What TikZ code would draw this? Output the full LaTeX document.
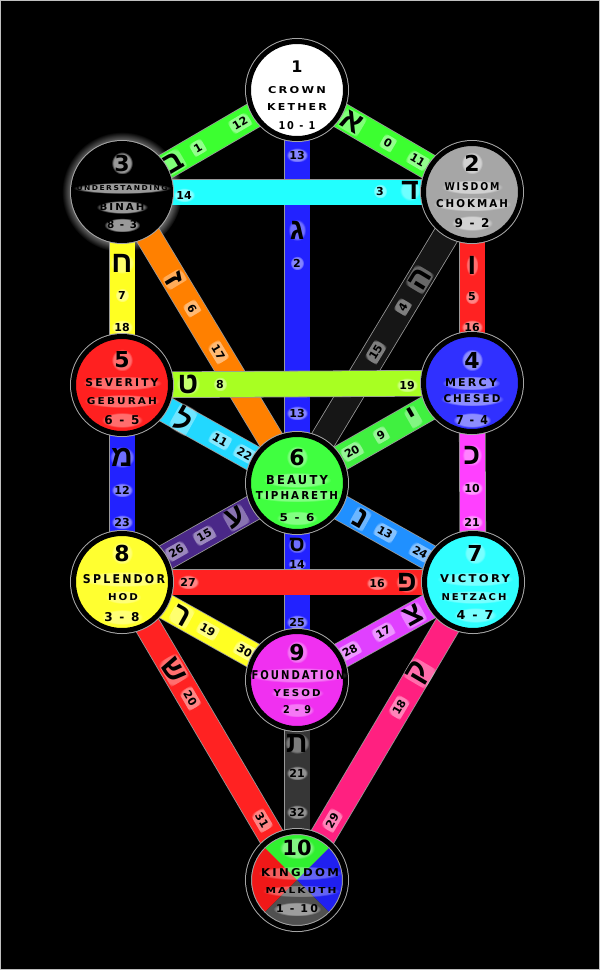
\documentclass[tikz,border=0pt]{standalone}
\usepackage{fontspec}
\usepackage{graphicx}
\usetikzlibrary{fadings}
\newfontfamily\capfont[LetterSpace=20]{DejaVu Sans}
\newfontfamily\numfont{DejaVu Sans}
\newfontfamily\hebfont[Script=Hebrew]{Liberation Sans}
\newcommand\ctxt[3]{\resizebox{#1pt}{#2pt}{\capfont\bfseries #3}}
\definecolor{cgreen}{HTML}{3CFF30}
\definecolor{cblue}{HTML}{2222FF}
\definecolor{ccyan}{HTML}{22FFFF}
\definecolor{cdark}{HTML}{161616}
\definecolor{cred}{HTML}{FF2222}
\definecolor{corange}{HTML}{FF8000}
\definecolor{cyellow}{HTML}{FFFF22}
\definecolor{cchart}{HTML}{A8FF22}
\definecolor{cgreentwo}{HTML}{40F040}
\definecolor{cmag}{HTML}{FF40FF}
\definecolor{csky}{HTML}{22D8FF}
\definecolor{cazure}{HTML}{2090FF}
\definecolor{cindigo}{HTML}{4A2888}
\definecolor{cviolet}{HTML}{E040FF}
\definecolor{cpink}{HTML}{FF2080}
\definecolor{cgray}{HTML}{363636}
\definecolor{sgray}{HTML}{A6A6A6}
\definecolor{sred}{HTML}{FF2020}
\definecolor{sblue}{HTML}{3030FF}
\definecolor{sgreen}{HTML}{40FF40}
\definecolor{syellow}{HTML}{FFFF30}
\definecolor{scyan}{HTML}{30FFFF}
\definecolor{smag}{HTML}{F030F0}
\definecolor{mgreen}{HTML}{30F030}
\definecolor{mred}{HTML}{F01818}
\definecolor{mblue}{HTML}{2020F0}
\definecolor{mgray}{HTML}{505050}
\tikzset{
  bar/.style={draw=gray!80, line width=0.8pt, double=#1, double distance=25pt},
  glow/.style={preaction={fill=white, fill opacity=#1, path fading=circle with fuzzy edge 20 percent}},
  num/.style={font=\numfont\bfseries\fontsize{11}{11}\selectfont, text=black, inner sep=3pt, glow=0.45},
  heb/.style={font=\hebfont\bfseries\fontsize{30}{30}\selectfont, text=black, inner sep=1.5pt, glow=0.35},
  seph/.style={circle, draw=black, line width=5pt, minimum size=97pt, inner sep=0pt, preaction={draw=gray!70, line width=7pt}},
  snum/.style={font=\numfont\bfseries\fontsize{22}{22}\selectfont, text=black, inner sep=3pt, glow=#1},
  snum/.default=0.35,
  sname/.style={text=black, inner sep=3pt, glow=#1},
  sname/.default=0.35,
}
\begin{document}
\begin{tikzpicture}[x=1pt,y=-1pt]
\fill[black] (0,0) rectangle (600,970);
\useasboundingbox (0,0) rectangle (600,970);
\draw[gray!50, line width=1pt] (0.5,0.5) rectangle (599.5,969.5);
% centres
\coordinate (c1) at (297,90);
\coordinate (c2) at (472,192);
\coordinate (c3) at (122,192);
\coordinate (c4) at (472,383);
\coordinate (c5) at (122,385);
\coordinate (c6) at (297,483);
\coordinate (c7) at (473,582);
\coordinate (c8) at (122,582);
\coordinate (c9) at (297,680);
\coordinate (c10) at (297,880);
% Binah halo
\fill[white, fill opacity=0.55, path fading=circle with fuzzy edge 20 percent] (c3) circle (60pt);
% paths (non-horizontal)
\draw[bar=cdark] (c2) -- (c6);
\draw[bar=corange] (c3) -- (c6);
\draw[bar=cblue] (c1) -- (c6);
\draw[bar=cred] (c2) -- (c4);
\draw[bar=cyellow] (c3) -- (c5);
\draw[bar=cgreentwo] (c4) -- (c6);
\draw[bar=csky] (c5) -- (c6);
\draw[bar=cmag] (c4) -- (c7);
\draw[bar=cblue] (c5) -- (c8);
\draw[bar=cazure] (c6) -- (c7);
\draw[bar=cindigo] (c6) -- (c8);
\draw[bar=cblue] (c6) -- (c9);
\draw[bar=cviolet] (c7) -- (c9);
\draw[bar=cyellow] (c8) -- (c9);
\draw[bar=cpink] (c7) -- (c10);
\draw[bar=cred] (c8) -- (c10);
\draw[bar=cgray] (c9) -- (c10);
\draw[bar=cgreen] (c1) -- (c2);
\draw[bar=cgreen] (c1) -- (c3);
% horizontal paths
\draw[bar=ccyan] (c3) -- (c2);
\draw[bar=cchart] (c5) -- (c4);
\draw[bar=cred] (c8) -- (c7);
% labels on diagonal paths
\path (c1) -- (c2) node[heb, pos=0.314, sloped] (a11) {א} node[num, pos=0.52, sloped] (b11) {0} node[num, pos=0.69, sloped] (d11) {11};
\path (c1) -- (c3) node[num, pos=0.326, sloped] (d12) {12} node[num, pos=0.566, sloped] (b12) {1} node[heb, pos=0.71, sloped] (a12) {ב};
\path (c2) -- (c6) node[heb, pos=0.30, sloped] (a15) {ה} node[num, pos=0.395, sloped] (b15) {4} node[num, pos=0.55, sloped] (d15) {15};
\path (c3) -- (c6) node[heb, pos=0.30, sloped] (a17) {ז} node[num, pos=0.40, sloped] (b17) {6} node[num, pos=0.55, sloped] (d17) {17};
\path (c4) -- (c6) node[heb, pos=0.337, sloped] (a20) {י} node[num, pos=0.52, sloped] (b20) {9} node[num, pos=0.686, sloped] (d20) {20};
\path (c5) -- (c6) node[heb, pos=0.35, sloped] (a22) {ל} node[num, pos=0.56, sloped] (b22) {11} node[num, pos=0.70, sloped] (d22) {22};
\path (c6) -- (c7) node[heb, pos=0.36, sloped] (a24) {נ} node[num, pos=0.50, sloped] (b24) {13} node[num, pos=0.70, sloped] (d24) {24};
\path (c6) -- (c8) node[heb, pos=0.35, sloped] (a26) {ע} node[num, pos=0.53, sloped] (b26) {15} node[num, pos=0.69, sloped] (d26) {26};
\path (c7) -- (c9) node[heb, pos=0.34, sloped] (a28) {צ} node[num, pos=0.51, sloped] (b28) {17} node[num, pos=0.70, sloped] (d28) {28};
\path (c7) -- (c10) node[heb, pos=0.305, sloped] (a29) {ק} node[num, pos=0.42, sloped] (b29) {18} node[num, pos=0.80, sloped] (d29) {29};
\path (c8) -- (c9) node[heb, pos=0.34, sloped] (a30) {ר} node[num, pos=0.49, sloped] (b30) {19} node[num, pos=0.70, sloped] (d30) {30};
\path (c8) -- (c10) node[heb, pos=0.295, sloped] (a31) {ש} node[num, pos=0.39, sloped] (b31) {20} node[num, pos=0.80, sloped] (d31) {31};
% labels on vertical paths
\node[num] (d13) at (297,155) {13};
\node[heb] (a13) at (297,230) {ג};
\node[num] (b13) at (297,263) {2};
\node[num] (e13) at (297,413) {13};
\node[heb] (a16) at (472,265) {ו};
\node[num] (b16) at (472,297) {5};
\node[num] (d16) at (472,327) {16};
\node[heb] (a18) at (122,263) {ח};
\node[num] (b18) at (122,295) {7};
\node[num] (d18) at (122,327) {18};
\node[heb] (a21) at (472,455) {כ};
\node[num] (b21) at (472,488) {10};
\node[num] (d21) at (472,522) {21};
\node[heb] (a23) at (122,457) {מ};
\node[num] (b23) at (122,490) {12};
\node[num] (d23) at (122,522) {23};
\node[heb, font=\hebfont\bfseries\fontsize{22}{22}\selectfont] (a25) at (297,545) {ס};
\node[num, inner sep=1.5pt] (b25) at (297,564) {14};
\node[num] (d25) at (297,622) {25};
\node[heb] (a32) at (297,743) {ת};
\node[num] (b32) at (297,773) {21};
\node[num] (d32) at (297,812) {32};
% labels on horizontal paths
\node[num] (d14) at (184,195) {14};
\node[num] (b14) at (380,191) {3};
\node[heb] (a14) at (410,190) {ד};
\node[heb] (a19) at (188,384) {ט};
\node[num] (b19) at (220,384) {8};
\node[num] (d19) at (407,385) {19};
\node[num] (d27) at (188,582) {27};
\node[num] (b27) at (377,583) {16};
\node[heb] (a27) at (407,582) {פ};
% sephiroth
\begin{scope}
\clip (c10) circle (49pt);
\fill[mgreen] (c10) -- (227,810) -- (367,810) -- cycle;
\fill[mred] (c10) -- (227,810) -- (227,950) -- cycle;
\fill[mblue] (c10) -- (367,810) -- (367,950) -- cycle;
\fill[mgray] (c10) -- (227,950) -- (367,950) -- cycle;
\end{scope}
\node[seph, fill=white] (s1) at (c1) {};
\node[seph, fill=sgray] (s2) at (c2) {};
\node[seph, fill=black] (s3) at (c3) {};
\node[seph, fill=sblue] (s4) at (c4) {};
\node[seph, fill=sred] (s5) at (c5) {};
\node[seph, fill=sgreen] (s6) at (c6) {};
\node[seph, fill=scyan] (s7) at (c7) {};
\node[seph, fill=syellow] (s8) at (c8) {};
\node[seph, fill=smag] (s9) at (c9) {};
\node[seph] (s10) at (c10) {};
% texts
\node[snum=0, font=\numfont\bfseries\fontsize{16}{16}\selectfont] (n1) at (297,67) {1};
\node[sname=0] (e1) at (297,90) {\ctxt{58}{7}{CROWN}};
\node[sname=0] (h1) at (297,107) {\ctxt{60}{7}{KETHER}};
\node[sname=0] (v1) at (297,126) {\ctxt{37}{8}{10 - 1}};
\node[snum=0.6] (n3) at (122,163) {3};
\node[sname=0.6] (e3) at (122,188) {\ctxt{91}{5}{UNDERSTANDING}};
\node[sname=0.6] (h3) at (122,207) {\ctxt{45}{7}{BINAH}};
\node[sname=0.6] (v3) at (122,225) {\ctxt{30}{8}{8 - 3}};
\node[snum=0.5] (n2) at (472,163) {2};
\node[sname=0.5] (e2) at (472,187) {\ctxt{55}{8}{WISDOM}};
\node[sname=0.5] (h2) at (472,204) {\ctxt{72}{8}{CHOKMAH}};
\node[sname=0.5] (v2) at (472,223) {\ctxt{35}{9}{9 - 2}};
\node[snum] (n5) at (122,360) {5};
\node[sname] (e5) at (122,383) {\ctxt{73}{8}{SEVERITY}};
\node[sname] (h5) at (122,401) {\ctxt{70}{7}{GEBURAH}};
\node[sname] (v5) at (122,420) {\ctxt{35}{9}{6 - 5}};
\node[snum=0.45] (n4) at (472,360) {4};
\node[sname=0.45] (e4) at (471,383) {\ctxt{52}{8}{MERCY}};
\node[sname=0.45] (h4) at (472,399) {\ctxt{57}{8}{CHESED}};
\node[sname=0.45] (v4) at (472,420) {\ctxt{32}{9}{7 - 4}};
\node[snum] (n6) at (297,457) {6};
\node[sname] (e6) at (297,480) {\ctxt{62}{9}{BEAUTY}};
\node[sname] (h6) at (297,495) {\ctxt{82}{8}{TIPHARETH}};
\node[sname] (v6) at (297,518) {\ctxt{35}{8}{5 - 6}};
\node[snum] (n8) at (122,553) {8};
\node[sname] (e8) at (124,579) {\ctxt{82}{9}{SPLENDOR}};
\node[sname] (h8) at (123,597) {\ctxt{30}{7}{HOD}};
\node[sname] (v8) at (122,617) {\ctxt{35}{9}{3 - 8}};
\node[snum] (n7) at (475,553) {7};
\node[sname] (e7) at (475,579) {\ctxt{70}{8}{VICTORY}};
\node[sname] (h7) at (474,597) {\ctxt{65}{7}{NETZACH}};
\node[sname] (v7) at (475,615) {\ctxt{37}{9}{4 - 7}};
\node[snum] (n9) at (297,652) {9};
\node[sname] (e9) at (298,675) {\ctxt{93}{9}{FOUNDATION}};
\node[sname] (h9) at (297,693) {\ctxt{47}{7}{YESOD}};
\node[sname] (v9) at (297,710) {\ctxt{28}{8}{2 - 9}};
\node[snum=0.4, font=\numfont\bfseries\fontsize{21}{21}\selectfont] (n10) at (297,848) {10};
\node[sname=0.3] (e10) at (300,873) {\ctxt{78}{8}{KINGDOM}};
\node[sname=0.3] (h10) at (301,891) {\ctxt{71}{6}{MALKUTH}};
\node[sname=0.45] (v10) at (297,909) {\ctxt{42}{8}{1 - 10}};
\end{tikzpicture}
\end{document}
